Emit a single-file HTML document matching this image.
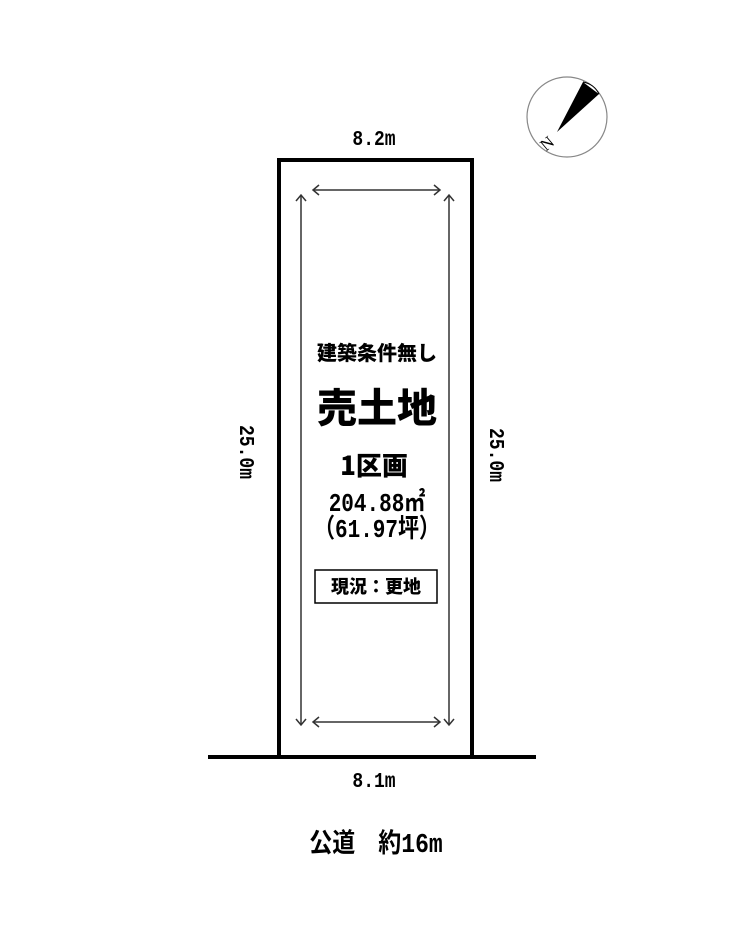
<!DOCTYPE html>
<html><head><meta charset="utf-8"><style>
body{margin:0;background:#fff;width:740px;height:928px;overflow:hidden;position:relative;font-family:"Liberation Mono","Noto Sans CJK JP",monospace;}
.t{position:absolute;white-space:nowrap;font-weight:bold;color:#000;}
.c{transform:translateX(-50%);}
</style></head><body>
<svg width="740" height="928" style="position:absolute;left:0;top:0">
<rect x="279" y="160" width="193" height="597" fill="none" stroke="#000" stroke-width="4"/>
<line x1="208" y1="757" x2="536" y2="757" stroke="#000" stroke-width="4"/>
<g stroke="#333" stroke-width="1.5" fill="none">
<line x1="313" y1="190" x2="440" y2="190"/>
<polyline points="319,185 313,190 319,195"/><polyline points="434,185 440,190 434,195"/>
<line x1="313" y1="722" x2="440" y2="722"/>
<polyline points="319,717 313,722 319,727"/><polyline points="434,717 440,722 434,727"/>
<line x1="301" y1="195" x2="301" y2="725"/>
<polyline points="296,201 301,195 306,201"/><polyline points="296,719 301,725 306,719"/>
<line x1="449" y1="195" x2="449" y2="725"/>
<polyline points="444,201 449,195 454,201"/><polyline points="444,719 449,725 454,719"/>
</g>
<rect x="315" y="570" width="122" height="33" fill="none" stroke="#000" stroke-width="1.5"/>
<circle cx="567" cy="117" r="40" fill="none" stroke="#888" stroke-width="1.2"/>
<polygon points="557,132 583,82 599,94" fill="#000"/>
<path d="M583,82 Q594,84 599,94" fill="#fff" stroke="#000" stroke-width="1"/>
<text x="541" y="150" font-family="Liberation Serif,serif" font-size="17" transform="rotate(-40 546 144)">N</text>
</svg>
<div class="t" style="left:374px;top:140px;font-size:18px;transform:translate(-50%,-50%) scaleY(1.2);">8.2m</div>
<div class="t" style="left:374px;top:782px;font-size:18px;transform:translate(-50%,-50%) scaleY(1.2);">8.1m</div>
<div class="t" style="left:245px;top:452px;font-size:18px;transform:translate(-50%,-50%) rotate(90deg) scaleY(1.2);">25.0m</div>
<div class="t" style="left:495px;top:455px;font-size:18px;transform:translate(-50%,-50%) rotate(90deg) scaleY(1.2);">25.0m</div>
<div class="t c" style="left:377px;top:339px;font-size:20px;line-height:26px;font-family:'Noto Sans CJK JP',sans-serif;font-weight:900;">建築条件無し</div>
<div class="t c" style="left:377px;top:381px;font-size:40px;line-height:48px;font-family:'Noto Sans CJK JP',sans-serif;font-weight:900;">売土地</div>
<div class="t c" style="left:374px;top:448px;font-size:26px;line-height:34px;font-family:'Noto Sans CJK JP',sans-serif;font-weight:900;">1区画</div>
<div class="t" style="left:377px;top:506px;font-size:21px;line-height:24px;transform:translate(-50%,-50%) scaleY(1.25);">204.88㎡</div>
<div class="t" style="left:377px;top:532px;font-size:21px;line-height:24px;transform:translate(-50%,-50%) scaleY(1.25);">（61.97坪）</div>
<div class="t c" style="left:376px;top:574px;font-size:18px;line-height:24px;font-family:'Noto Sans CJK JP',sans-serif;font-weight:900;">現況：更地</div>
<div class="t" style="left:376px;top:845px;font-size:23px;line-height:30px;transform:translate(-50%,-50%) scaleY(1.15);">公道　約16m</div>
</body></html>
